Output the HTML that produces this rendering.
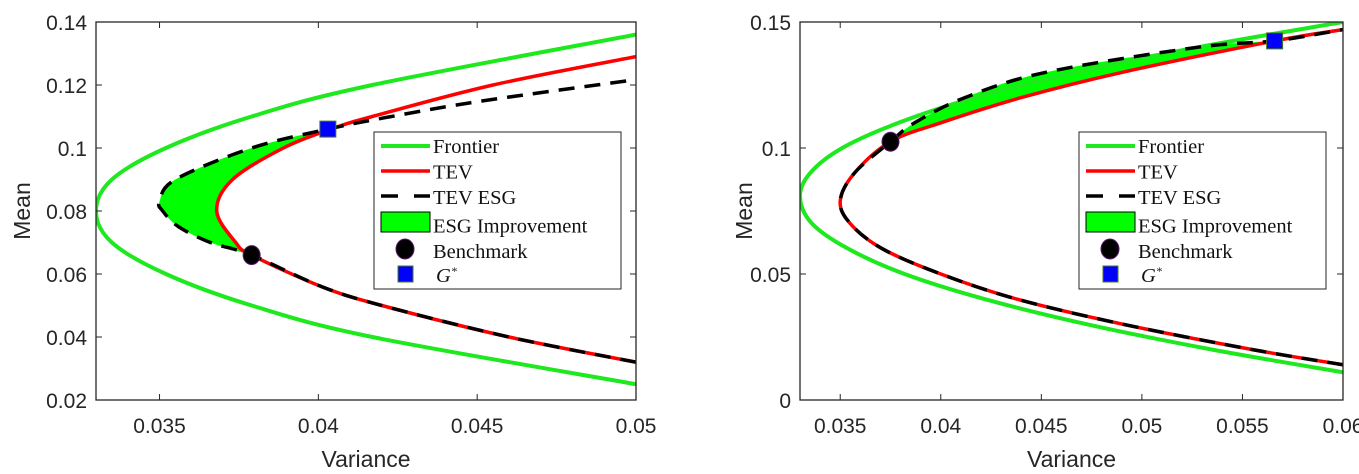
<!DOCTYPE html>
<html><head><meta charset="utf-8"><style>
body{margin:0;background:#fff;width:1359px;height:474px;overflow:hidden}
svg{display:block}
svg text{font-family:"Liberation Sans",sans-serif}
.tick{font-size:21px;fill:#262626}
.ttl{font-size:23px;fill:#262626}
.leg{font-family:"Liberation Serif",serif !important;font-size:20.5px;fill:#111}
</style></head><body>
<svg id="svg" width="1359" height="474"></svg>
<script>
// ---- Left panel data (variance, mean) pairs ----
const leftFrontierMean=[0.025,0.04,0.05,0.06,0.07,0.08,0.09,0.1,0.11,0.12,0.136];
const leftFrontierVar=[0.0500,0.0417,0.0379,0.0352,0.0335,0.0330,0.0335,0.0352,0.0379,0.0417,0.0500];
const leftTevMean=[0.032,0.04,0.05,0.056,0.066,0.07,0.08,0.09,0.1,0.106,0.11,0.12,0.129];
const leftTevVar=[0.0500,0.0460,0.0420,0.0401,0.0379,0.0374,0.0368,0.0373,0.0389,0.0404,0.0417,0.0455,0.0500];
const leftEsgMean=[0.032,0.04,0.05,0.056,0.066,0.07,0.075,0.08,0.083,0.09,0.1,0.106,0.11,0.115,0.1217];
const leftEsgVar=[0.0500,0.0460,0.0420,0.0401,0.0379,0.0366,0.0356,0.0351,0.0350,0.0355,0.0379,0.0403,0.0423,0.0452,0.0500];
const leftBenchmark=[0.0379,0.066];
const leftG=[0.0403,0.106];
const leftXTicks=[0.035,0.04,0.045,0.05];
const leftXTickLabels=["0.035","0.04","0.045","0.05"];
const leftYTicks=[0.02,0.04,0.06,0.08,0.1,0.12,0.14];
const leftYTickLabels=["0.02","0.04","0.06","0.08","0.1","0.12","0.14"];
// ---- Right panel data ----
const rightFrontierMean=[0.011,0.02,0.03,0.04,0.05,0.06,0.07,0.0805,0.09,0.1,0.11,0.12,0.13,0.14,0.15];
const rightFrontierVar=[0.0600,0.0535,0.0473,0.0422,0.0382,0.0354,0.0336,0.0330,0.0335,0.0351,0.0379,0.0417,0.0467,0.0528,0.0600];
const rightTevMean=[0.014,0.02,0.03,0.04,0.05,0.06,0.07,0.079,0.09,0.1025,0.11,0.12,0.13,0.1425,0.147];
const rightTevVar=[0.0600,0.0555,0.0491,0.0438,0.0400,0.0371,0.0355,0.0350,0.0357,0.0375,0.0400,0.0440,0.0490,0.0566,0.0600];
const rightEsgMean=[0.014,0.02,0.03,0.04,0.05,0.06,0.07,0.079,0.09,0.1025,0.11,0.12,0.13,0.14,0.1425,0.147];
const rightEsgVar=[0.0600,0.0555,0.0491,0.0438,0.0400,0.0371,0.0355,0.0350,0.0357,0.0375,0.0387,0.0412,0.0452,0.0528,0.0566,0.0600];
const rightBenchmark=[0.0375,0.1025];
const rightG=[0.0566,0.1425];
const rightXTicks=[0.035,0.04,0.045,0.05,0.055,0.06];
const rightXTickLabels=["0.035","0.04","0.045","0.05","0.055","0.06"];
const rightYTicks=[0,0.05,0.1,0.15];
const rightYTickLabels=["0","0.05","0.1","0.15"];

const NS="http://www.w3.org/2000/svg";
const svg=document.getElementById('svg');
function mk(tag,attrs,parent){const e=document.createElementNS(NS,tag);for(const k in attrs)e.setAttribute(k,attrs[k]);(parent||svg).appendChild(e);return e;}
function smooth(pts){let d="M"+pts[0][0]+","+pts[0][1];for(let i=0;i<pts.length-1;i++){const p0=pts[i-1]||pts[i],p1=pts[i],p2=pts[i+1],p3=pts[i+2]||p2;
d+=" C"+(p1[0]+(p2[0]-p0[0])/6)+","+(p1[1]+(p2[1]-p0[1])/6)+" "+(p2[0]-(p3[0]-p1[0])/6)+","+(p2[1]-(p3[1]-p1[1])/6)+" "+p2[0]+","+p2[1];}return d;}

function panel(o){
  const g=mk('g',{});
  
  
  const X=v=>o.x0+(v-o.xmin)/(o.xmax-o.xmin)*(o.x1-o.x0);
  const Y=v=>o.y1-(v-o.ymin)/(o.ymax-o.ymin)*(o.y1-o.y0);
  const cp=mk('clipPath',{id:o.name+'-clip'},g);mk('rect',{x:o.x0,y:o.y0,width:o.x1-o.x0,height:o.y1-o.y0},cp);
  const plot=mk('g',{'clip-path':'url(#'+o.name+'-clip)'},g);
  const pts=(vs,ms)=>vs.map((v,i)=>[X(v),Y(ms[i])]);
  const lo=o.bench[1],hi=o.g[1];
  const esgSeg=pts(o.ev,o.em).filter((p,i)=>o.em[i]>=lo-1e-9&&o.em[i]<=hi+1e-9);
  const tevSeg=pts(o.tv,o.tm).filter((p,i)=>o.tm[i]>=lo-1e-9&&o.tm[i]<=hi+1e-9).reverse();
  const ts=smooth(tevSeg);
  const fill=mk('path',{d:smooth(esgSeg)+" L"+tevSeg[0][0]+","+tevSeg[0][1]+ts.slice(ts.indexOf(" C"))+" Z",fill:'#00ff00',stroke:'none'},plot);
  
  
  const f=mk('path',{d:smooth(pts(o.fv,o.fm)),fill:'none',stroke:'#1ee81e','stroke-width':4},plot);
  
  
  const t=mk('path',{d:smooth(pts(o.tv,o.tm)),fill:'none',stroke:'#ff0000','stroke-width':3.5},plot);
  
  
  const e=mk('path',{d:smooth(pts(o.ev,o.em)),fill:'none',stroke:'#000','stroke-width':3.5,'stroke-dasharray':'16,10'},plot);
  
  
  const box=mk('rect',{x:o.x0,y:o.y0,width:o.x1-o.x0,height:o.y1-o.y0,fill:'none',stroke:'#262626','stroke-width':1.3},g);
  
  
  o.xt.forEach((v,i)=>{const x=X(v);
    mk('line',{x1:x,x2:x,y1:o.y1,y2:o.y1-6,stroke:'#262626'},g);mk('line',{x1:x,x2:x,y1:o.y0,y2:o.y0+6,stroke:'#262626'},g);
    const tx=mk('text',{x:x,y:o.y1+33,'text-anchor':'middle',class:'tick'},g);tx.textContent=o.xl[i];
    
    });
  o.yt.forEach((v,i)=>{const y=Y(v);
    mk('line',{x1:o.x0,x2:o.x0+6,y1:y,y2:y,stroke:'#262626'},g);mk('line',{x1:o.x1,x2:o.x1-6,y1:y,y2:y,stroke:'#262626'},g);
    const ty=mk('text',{x:o.x0-9,y:y+8,'text-anchor':'end',class:'tick'},g);ty.textContent=o.yl[i];
    
    });
  const xt=mk('text',{x:(o.x0+o.x1)/2,y:467,'text-anchor':'middle',class:'ttl'},g);xt.textContent='Variance';
  
  
  const yt=mk('text',{x:0,y:0,'text-anchor':'middle',class:'ttl',transform:'translate('+o.ytx+','+((o.y0+o.y1)/2)+') rotate(-90)'},g);yt.textContent='Mean';
  
  
  const b=mk('ellipse',{cx:X(o.bench[0]),cy:Y(o.bench[1]),rx:8.5,ry:9.5,fill:'#000',stroke:'#5a1a6a','stroke-width':1},g);
  
  
  const s=mk('rect',{x:X(o.g[0])-8,y:Y(o.g[1])-8,width:16,height:16,fill:'#0000ff',stroke:'#4a7a20','stroke-width':1},g);
  
  
  const L=mk('g',{transform:'translate('+o.lx+',132)'},g);
  
  
  mk('rect',{x:0,y:0,width:247,height:157,fill:'#fff',stroke:'#262626','stroke-width':1},L);
  mk('line',{x1:7,x2:56,y1:14,y2:14,stroke:'#1ee81e','stroke-width':4},L);
  mk('line',{x1:7,x2:56,y1:39,y2:39,stroke:'#ff0000','stroke-width':3.5},L);
  mk('line',{x1:7,x2:56,y1:64,y2:64,stroke:'#000','stroke-width':3.5,'stroke-dasharray':'17,16'},L);
  mk('rect',{x:7,y:80,width:49,height:20,fill:'#00ff00',stroke:'#000','stroke-width':1},L);
  mk('ellipse',{cx:31,cy:117,rx:9,ry:10,fill:'#000',stroke:'#5a1a6a'},L);
  mk('rect',{x:24,y:134,width:15,height:16,fill:'#0000ff',stroke:'#4a7a20'},L);
  const labels=['Frontier','TEV','TEV ESG','ESG Improvement','Benchmark'];
  labels.forEach((s,i)=>{const t=mk('text',{x:59,y:21+i*25.5+(i>=3?3:0),class:'leg'},L);t.textContent=s;
    
    });
  const gt=mk('text',{x:62,y:150,class:'leg','font-style':'italic'},L);gt.innerHTML='G<tspan font-size="12" dy="-7">*</tspan>';
  
  
}
panel({name:'left-panel',x0:96,x1:636,y0:22,y1:400,xmin:0.033,xmax:0.05,ymin:0.02,ymax:0.14,
 fm:leftFrontierMean,fv:leftFrontierVar,tm:leftTevMean,tv:leftTevVar,em:leftEsgMean,ev:leftEsgVar,
 bench:leftBenchmark,g:leftG,xt:leftXTicks,xl:leftXTickLabels,yt:leftYTicks,yl:leftYTickLabels,ytx:30,lx:374});
panel({name:'right-panel',x0:800,x1:1343,y0:22,y1:400,xmin:0.033,xmax:0.06,ymin:0,ymax:0.15,
 fm:rightFrontierMean,fv:rightFrontierVar,tm:rightTevMean,tv:rightTevVar,em:rightEsgMean,ev:rightEsgVar,
 bench:rightBenchmark,g:rightG,xt:rightXTicks,xl:rightXTickLabels,yt:rightYTicks,yl:rightYTickLabels,ytx:752,lx:1079});
</script>
</body></html>
